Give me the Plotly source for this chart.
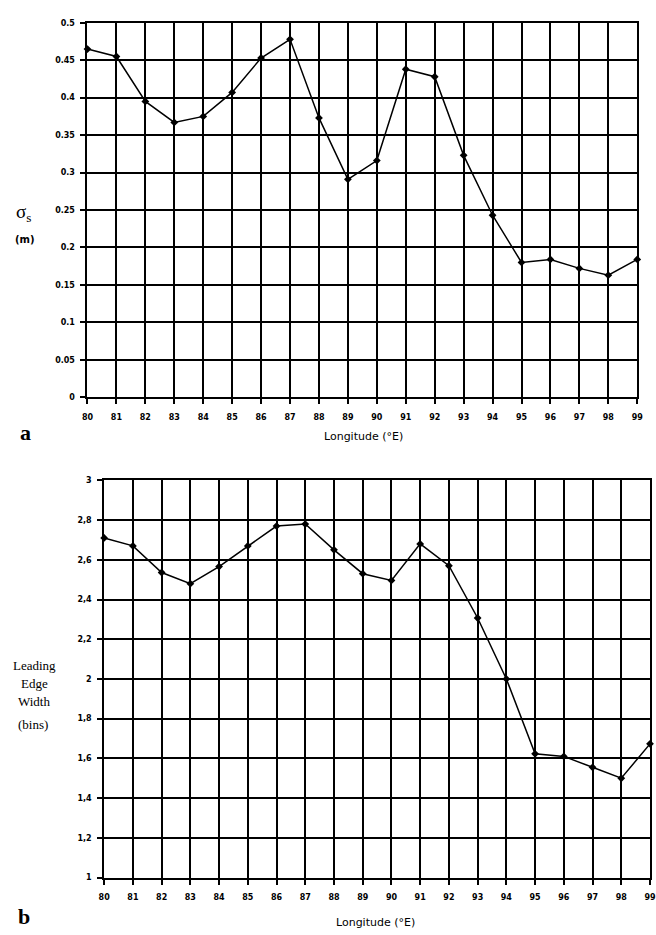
import plotly.graph_objects as go

W, H = 656, 935

longitude = list(range(80, 100))
sigma_s = [0.465, 0.455, 0.395, 0.367, 0.375, 0.407, 0.453, 0.478, 0.373, 0.291,
           0.316, 0.438, 0.428, 0.323, 0.243, 0.180, 0.184, 0.172, 0.163, 0.184]
lew = [2.71, 2.67, 2.536, 2.48, 2.566, 2.67, 2.77, 2.78, 2.65, 2.53,
       2.496, 2.68, 2.57, 2.307, 2.00, 1.623, 1.61, 1.555, 1.50, 1.673]

top_yticks = [0, 0.05, 0.1, 0.15, 0.2, 0.25, 0.3, 0.35, 0.4, 0.45, 0.5]
top_ylabels = ["0", "0.05", "0.1", "0.15", "0.2", "0.25", "0.3", "0.35", "0.4", "0.45", "0.5"]
bot_yticks = [1, 1.2, 1.4, 1.6, 1.8, 2, 2.2, 2.4, 2.6, 2.8, 3]
bot_ylabels = ["1", "1,2", "1,4", "1,6", "1,8", "2", "2,2", "2,4", "2,6", "2,8", "3"]


def px_x(p):
    return p / W


def px_y(p):
    return 1 - p / H


fig = go.Figure()
line_style = dict(color="black", width=1.5)
marker_style = dict(symbol="diamond", size=6, color="black")

fig.add_trace(go.Scatter(x=longitude, y=sigma_s, mode="lines+markers", line=line_style,
                         marker=marker_style, xaxis="x", yaxis="y", cliponaxis=False,
                         showlegend=False))
fig.add_trace(go.Scatter(x=longitude, y=lew, mode="lines+markers", line=line_style,
                         marker=marker_style, xaxis="x2", yaxis="y2", cliponaxis=False,
                         showlegend=False))

tickfont = dict(family="DejaVu Sans", size=8, color="black", weight="bold")
common_x = dict(tickmode="array", tickvals=longitude, ticktext=[str(v) for v in longitude],
                showgrid=True, gridcolor="black", gridwidth=2, showline=True,
                linecolor="black", linewidth=2, mirror=True, ticks="outside",
                ticklen=5, tickcolor="black", tickwidth=1.5, tickfont=tickfont,
                zeroline=False, ticklabelstandoff=6)
common_y = dict(showgrid=True, gridcolor="black", gridwidth=2, showline=True,
                linecolor="black", linewidth=2, mirror=True, ticks="outside",
                ticklen=5, tickcolor="black", tickwidth=1.5, tickfont=tickfont,
                zeroline=False, ticklabelstandoff=4)

fig.update_layout(
    width=W, height=H,
    margin=dict(l=0, r=0, t=0, b=0),
    paper_bgcolor="white", plot_bgcolor="white",
    xaxis=dict(common_x, domain=[px_x(83), px_x(643)], range=[80, 99], anchor="y"),
    yaxis=dict(common_y, domain=[px_y(397), px_y(19)], range=[0, 0.5], anchor="x",
               tickmode="array", tickvals=top_yticks, ticktext=top_ylabels),
    xaxis2=dict(common_x, domain=[px_x(100), 1.0], range=[80, 99], anchor="y2"),
    yaxis2=dict(common_y, domain=[px_y(882), px_y(481)], range=[1, 3], anchor="x2",
                tickmode="array", tickvals=bot_yticks, ticktext=bot_ylabels),
)

serif = "Liberation Serif"
ann = [
    dict(text="σ<sub>s</sub>", x=px_x(18), y=px_y(211), font=dict(family=serif, size=19)),
    dict(text="(m)", x=px_x(19), y=px_y(238), font=dict(family="DejaVu Sans", size=10, weight="bold")),
    dict(text="a", x=px_x(20), y=px_y(433), font=dict(family=serif, size=22, weight="bold")),
    dict(text="Longitude (°E)", x=px_x(364), y=px_y(437), font=dict(family="DejaVu Sans", size=11)),
    dict(text="Leading", x=px_x(29), y=px_y(668), font=dict(family=serif, size=13)),
    dict(text="Edge", x=px_x(29), y=px_y(686), font=dict(family=serif, size=13)),
    dict(text="Width", x=px_x(29), y=px_y(704), font=dict(family=serif, size=13)),
    dict(text="(bins)", x=px_x(27), y=px_y(727), font=dict(family=serif, size=13)),
    dict(text="b", x=px_x(18), y=px_y(921), font=dict(family=serif, size=22, weight="bold")),
    dict(text="Longitude (°E)", x=px_x(376), y=px_y(927), font=dict(family="DejaVu Sans", size=11)),
]
for a in ann:
    a.update(xref="paper", yref="paper", showarrow=False, xanchor="center", yanchor="middle")
    a["font"].setdefault("color", "black")
fig.update_layout(annotations=ann)

fig.write_html("out.html")
